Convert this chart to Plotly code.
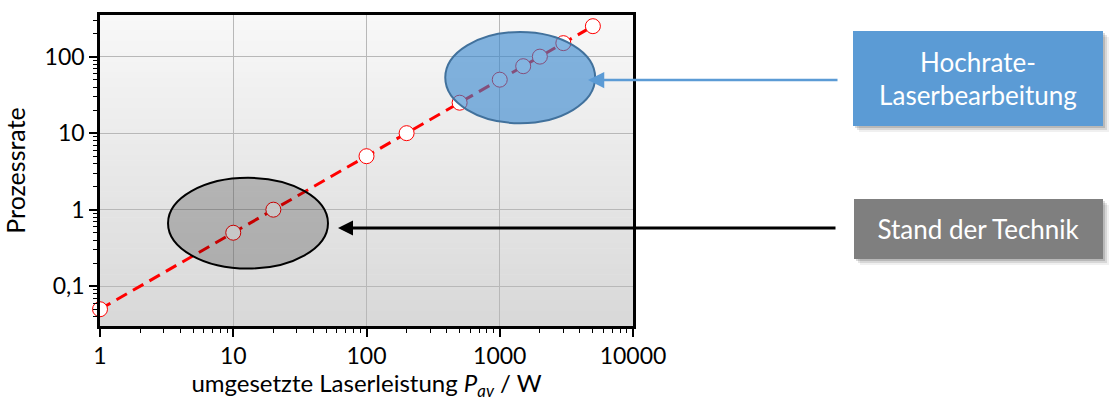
import plotly.graph_objects as go

# ---- data ----
leistung_w = [1, 10, 20, 100, 200, 500, 1000, 1500, 2000, 3000, 5000]
prozessrate = [0.05, 0.5, 1, 5, 10, 25, 50, 75, 100, 150, 250]

x_tickvals = [1, 10, 100, 1000, 10000]
x_ticktext = ["1", "10", "100", "1000", "10000"]
y_tickvals = [0.1, 1, 10, 100]
y_ticktext = ["0,1", "1", "10", "100"]

# ellipse extents (data coordinates)
stand_x = [3.24, 51.4]
stand_y = [0.17, 2.61]
hoch_x = [390, 5200]
hoch_y = [13.5, 210]

label_hoch = "Hochrate-<br>Laserbearbeitung"
label_stand = "Stand der Technik"

FONT = "Lato"
W, H = 1118, 401
ML, MR, MT, MB = 100, 485, 15, 75
PW, PH = W - ML - MR, H - MT - MB


def px(xp):
    return (xp - ML) / PW


def py(yp):
    return (H - MB - yp) / PH


fig = go.Figure()
fig.add_trace(go.Scatter(
    x=leistung_w, y=prozessrate, mode="lines+markers",
    line=dict(color="#ff0000", width=3, dash="12px,7px"),
    marker=dict(size=15, color="white",
                line=dict(color="#ff0000", width=1)),
    cliponaxis=False, showlegend=False,
))

shapes = []
# gradient background
n = 60
for i in range(n):
    t = i / (n - 1)
    c0, c1 = 248, 216
    v = round(c0 + (c1 - c0) * t)
    shapes.append(dict(type="rect", xref="x domain", yref="y domain",
                       x0=0, x1=1, y0=1 - i / n, y1=1 - (i + 1) / n - 0.002,
                       fillcolor=f"rgb({v},{v},{v})", line=dict(width=0),
                       layer="below"))
# ellipses
shapes.append(dict(type="circle", xref="x", yref="y",
                   x0=stand_x[0], x1=stand_x[1], y0=stand_y[0], y1=stand_y[1],
                   fillcolor="rgba(0,0,0,0.22)",
                   line=dict(color="black", width=2), layer="above"))
shapes.append(dict(type="circle", xref="x", yref="y",
                   x0=hoch_x[0], x1=hoch_x[1], y0=hoch_y[0], y1=hoch_y[1],
                   fillcolor="rgba(50,132,205,0.6)",
                   line=dict(color="#41719c", width=2), layer="above"))
# box shadows
boxes = [(853, 1103, 31, 126, "#5b9bd5", label_hoch, 81),
         (854, 1103, 199, 259, "#7f7f7f", label_stand, 229)]
for (x0, x1, y0, y1, col, _, _) in boxes:
    for k, a in [(6, 0.06), (4, 0.10), (2, 0.14)]:
        shapes.append(dict(type="rect", xref="paper", yref="paper",
                           x0=px(x0 + k), x1=px(x1 + k), y0=py(y0 + k), y1=py(y1 + k),
                           fillcolor=f"rgba(0,0,0,{a})", line=dict(width=0),
                           layer="below"))

annotations = []
for (x0, x1, y0, y1, col, txt, ty) in boxes:
    annotations.append(dict(
        xref="paper", yref="paper", x=px((x0 + x1) / 2), y=py((y0 + y1) / 2),
        xanchor="center", yanchor="middle", text=txt, showarrow=False,
        width=x1 - x0, height=y1 - y0, bgcolor=col, borderpad=0, borderwidth=0,
        font=dict(family=FONT, size=26, color="white"), align="center",
        valign="middle"))

annotations += [
    dict(xref="paper", yref="paper", x=px(588), y=py(80), text="",
         showarrow=True, ax=251, ay=0, axref="pixel", ayref="pixel",
         arrowhead=2, arrowsize=1.3, arrowwidth=2.5, arrowcolor="#5b9bd5",
         standoff=0),
    dict(xref="paper", yref="paper", x=px(338), y=py(228), text="",
         showarrow=True, ax=499, ay=0, axref="pixel", ayref="pixel",
         arrowhead=2, arrowsize=1.0, arrowwidth=3, arrowcolor="black",
         standoff=0),
]

axis_common = dict(
    type="log", showline=True, linecolor="black", linewidth=2.5, mirror=True,
    ticks="outside", ticklen=8, tickwidth=2, tickcolor="black",
    showgrid=True, gridcolor="#b8b8b8", gridwidth=1, zeroline=False,
    tickfont=dict(family=FONT, size=23, color="black"),
    minor=dict(ticks="outside", ticklen=4, tickwidth=1, tickcolor="black",
               dtick="D1", showgrid=False),
)

fig.update_layout(
    width=W, height=H, margin=dict(l=ML, r=MR, t=MT, b=MB, autoexpand=False),
    paper_bgcolor="white", plot_bgcolor="rgba(0,0,0,0)",
    shapes=shapes, annotations=annotations,
    xaxis=dict(**axis_common, range=[0, 4], tickvals=x_tickvals,
               ticktext=x_ticktext,
               title=dict(text="umgesetzte Laserleistung <i>P</i><sub><i>av</i></sub> / W",
                          font=dict(family=FONT, size=24, color="black"),
                          standoff=5)),
    yaxis=dict(**axis_common, range=[-1.52, 2.544], tickvals=y_tickvals,
               ticktext=y_ticktext,
               title=dict(text="Prozessrate",
                          font=dict(family=FONT, size=25, color="black"),
                          standoff=14)),
)

fig.write_html("out.html", config={"displayModeBar": False},
               post_script="document.body.style.margin='0';")
